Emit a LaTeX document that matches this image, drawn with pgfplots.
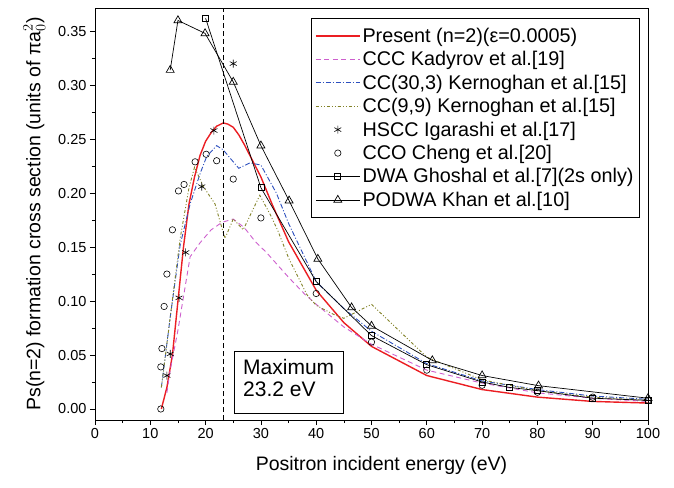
\documentclass[border=0pt]{standalone}
\usepackage{pgfplots}
\pgfplotsset{compat=1.18}
\usepackage{fontspec}
\setmainfont{Liberation Sans}
\definecolor{cred}{RGB}{235,30,35}
\definecolor{cmag}{RGB}{205,95,205}
\definecolor{cblue}{RGB}{45,80,190}
\definecolor{colive}{RGB}{130,130,40}
\begin{document}
\begin{tikzpicture}
\begin{axis}[
  scale only axis, width=553pt, height=412pt,
  xmin=0, xmax=100, ymin=-0.0102, ymax=0.3715,
  xtick={0,10,...,100}, minor x tick num=1,
  ytick={0,0.05,...,0.351}, minor y tick num=1,
  tick align=outside, xtick pos=bottom, ytick pos=left,
  major tick length=5pt, minor tick length=3pt,
  /pgf/number format/assume math mode=true,
  yticklabel style={/pgf/number format/.cd,fixed,fixed zerofill,precision=2},
  xticklabel style={/pgf/number format/fixed},
  tick label style={font=\fontsize{14.5}{16}\selectfont},
  xlabel={Positron incident energy (eV)},
  ylabel={Ps(n=2) formation cross section (units of π$\mathrm{a}_0^2$)},
  xlabel style={yshift=-11pt, xshift=10pt, font=\fontsize{19.5}{22}\selectfont},
  ylabel style={yshift=6pt, font=\fontsize{19.5}{22}\selectfont},
  axis line style={line width=0.8pt},
  every tick/.style={black,line width=0.7pt},
  legend style={at={(0.9855,0.9757)}, anchor=north east, line width=0.8pt,
    font=\fontsize{19.8}{22}\selectfont, row sep=3.6pt, inner xsep=4pt, inner ysep=7.5pt},
  legend cell align=left,
  legend image code/.code={\draw[mark repeat=2,mark phase=2,#1] plot coordinates {(0pt,0pt) (22pt,0pt) (44pt,0pt)};},
]
\addplot[color=cred, line width=1.4pt] coordinates {
(12,0)(13,0.02)(14,0.05)(15,0.1)(16,0.15)(17,0.19)(18,0.215)(19,0.235)(20,0.248)(21,0.256)(22,0.262)(23.2,0.265)(24,0.264)(25,0.261)(26,0.254)(27,0.245)(28,0.235)(30,0.215)(32,0.19)(35,0.155)(40,0.11)(45,0.08)(50,0.058)(60,0.031)(70,0.018)(80,0.011)(90,0.007)(100,0.0055)};
\addlegendentry{Present (n=2)(ε=0.0005)}
\addplot[cmag, line width=0.9pt, dash pattern=on 5pt off 3.5pt] coordinates {
(13,0.015)(13.6,0.036)(15,0.073)(16,0.104)(17.2,0.141)(19,0.154)(21,0.166)(23,0.173)(25,0.176)(27,0.168)(29,0.155)(31,0.145)(35,0.122)(38,0.106)(40,0.097)(45,0.076)(50,0.060)(60,0.036)(70,0.024)(80,0.015)(90,0.010)(100,0.007)};
\addlegendentry{CCC Kadyrov et al.[19]}
\addplot[cblue, line width=0.9pt, dash pattern=on 5pt off 2pt on 1pt off 2pt] coordinates {
(12,0.02)(12.5,0.04)(13.6,0.085)(15.4,0.152)(17.2,0.19)(19,0.218)(20.2,0.234)(22,0.244)(23.2,0.24)(24.5,0.232)(26,0.223)(28,0.228)(30,0.226)(32.8,0.20)(35,0.172)(40,0.118)(45,0.093)(50,0.072)(60,0.042)(70,0.026)(80,0.018)(90,0.012)(100,0.009)};
\addlegendentry{CC(30,3) Kernoghan et al.[15]}
\addplot[colive, line width=0.9pt, dash pattern=on 3pt off 2pt on 1pt off 2pt on 1pt off 2pt] coordinates {
(12,0.02)(12.5,0.04)(13.6,0.085)(15.4,0.158)(17,0.205)(18,0.224)(19.6,0.206)(21.7,0.19)(23.5,0.158)(25,0.176)(26.8,0.166)(29.8,0.198)(31.6,0.181)(33,0.166)(35,0.14)(38.3,0.106)(40,0.096)(43,0.088)(45,0.084)(50,0.097)(60,0.048)(70,0.027)(80,0.017)(90,0.011)(100,0.008)};
\addlegendentry{CC(9,9) Kernoghan et al.[15]}
\addplot[only marks, mark=asterisk, mark size=4pt, black, line width=0.6pt] coordinates {
(13,0.031)(13.6,0.051)(15.2,0.103)(16.4,0.145)(19.3,0.206)(21.5,0.258)(25,0.320)};
\addlegendentry{HSCC Igarashi et al.[17]}
\addplot[only marks, mark=o, mark size=3.2pt, black, line width=0.6pt] coordinates {
(11.9,0)(11.9,0.039)(12.1,0.056)(12.5,0.095)(13,0.125)(14,0.166)(15.1,0.202)(16.1,0.208)(18.1,0.229)(20.1,0.236)(22,0.230)(25,0.213)(30,0.177)(40,0.107)(50,0.062)(60,0.036)(70,0.022)(80,0.0155)(90,0.011)(100,0.008)};
\addlegendentry{CCO Cheng et al.[20]}
\addplot[black, line width=0.7pt, mark=square, mark size=3pt, mark options={fill=white,solid}] coordinates {
(20,0.362)(30,0.205)(40,0.118)(50,0.068)(60,0.041)(70,0.025)(75,0.020)(80,0.017)(90,0.010)(100,0.008)};
\addlegendentry{DWA Ghoshal et al.[7](2s only)}
\addplot[black, line width=0.7pt, mark=triangle, mark size=4.6pt, mark options={fill=white,solid}] coordinates {
(13.6,0.314)(15,0.360)(19.9,0.348)(25,0.303)(30,0.244)(35.1,0.193)(40.3,0.139)(46.4,0.094)(50,0.077)(61,0.045)(70,0.031)(80.2,0.0216)(100,0.010)};
\addlegendentry{PODWA Khan et al.[10]}
\addplot[black, line width=0.8pt, dash pattern=on 5pt off 3pt, forget plot] coordinates {(23.2,-0.0102)(23.2,0.3715)};
\node[draw, line width=0.8pt, anchor=north west, inner xsep=9pt, inner ysep=8pt, align=left,
  font=\fontsize{21}{22}\selectfont, fill=white] at (axis cs:25.1,0.0537) {Maximum\\23.2 eV\rule[-9pt]{0pt}{0pt}};
\end{axis}
\path ([shift={(-95pt,-67pt)}]current axis.south west) rectangle ([shift={(26pt,8pt)}]current axis.north east);
\end{tikzpicture}
\end{document}
